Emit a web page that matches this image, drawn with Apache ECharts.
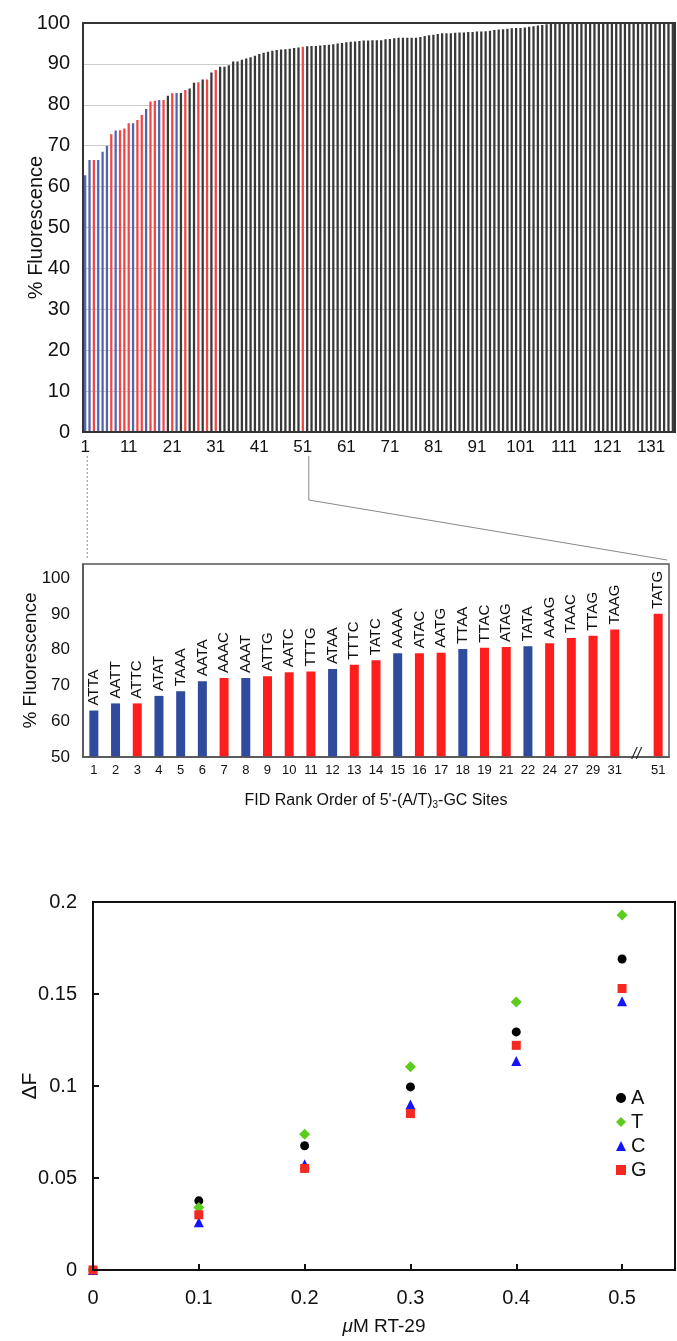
<!DOCTYPE html>
<html><head><meta charset="utf-8">
<script src="https://cdn.jsdelivr.net/npm/echarts@6.0.0/dist/echarts.min.js"></script>
<style>html,body{margin:0;padding:0;background:#fff}#c{width:677px;height:1341px}</style>
</head><body><div id="c"></div>
<script>
// ---------- DATA ----------
// Top panel: % fluorescence of all 136 tetranucleotide sites in FID rank order
const topValues = [
  62.8, 66.5, 66.5, 66.5, 68.5, 70.0, 72.8, 73.7, 73.8, 74.2,
  75.5, 75.5, 76.3, 77.5, 79.0, 80.8, 81.0, 81.2, 81.2, 82.2,
  82.8, 82.9, 82.9, 83.6, 84.0, 85.4, 85.5, 86.2, 86.2, 87.9,
  88.5, 89.3, 89.3, 89.7, 90.6, 90.6, 91.0, 91.3, 91.6, 92.0,
  92.4, 92.7, 93.0, 93.2, 93.4, 93.5, 93.6, 93.7, 93.9, 94.0,
  94.2, 94.3, 94.4, 94.4, 94.5, 94.6, 94.7, 94.8, 95.0, 95.1,
  95.3, 95.4, 95.5, 95.6, 95.7, 95.7, 95.8, 95.8, 95.8, 96.0,
  96.1, 96.3, 96.4, 96.4, 96.4, 96.4, 96.4, 96.6, 96.8, 97.0,
  97.1, 97.3, 97.5, 97.5, 97.5, 97.6, 97.7, 97.7, 97.8, 97.8,
  97.9, 97.9, 98.0, 98.1, 98.3, 98.4, 98.5, 98.6, 98.7, 98.8,
  98.8, 98.9, 99.1, 99.2, 99.4, 99.5, 99.7, 99.8, 99.9, 100,
  100, 100, 100, 100, 100, 100, 100, 100, 100, 100,
  100, 100, 100, 100, 100, 100, 100, 100, 100, 100,
  100, 100, 100, 100, 100, 100
];
const topYTicks = [0, 100, 10];   // min, max, interval
const topLabelEvery = 10;

// Middle panel: 5'-(A/T)3-GC sites
const midRanks  = [1,2,3,4,5,6,7,8,9,10,11,12,13,14,15,16,17,18,19,21,22,24,27,29,31,51];
const midSeqs   = ['ATTA','AATT','ATTC','ATAT','TAAA','AATA','AAAC','AAAT','ATTG','AATC','TTTG','ATAA','TTTC',
                   'TATC','AAAA','ATAC','AATG','TTAA','TTAC','ATAG','TATA','AAAG','TAAC','TTAG','TAAG','TATG'];
const midValues = [63.0,65.0,65.0,67.1,68.4,71.2,72.1,72.1,72.6,73.7,73.9,74.6,75.8,
                   77.1,79.0,79.0,79.2,80.2,80.6,80.8,81.0,81.8,83.3,83.9,85.7,90.1];
const midGroups = ['B','B','R','B','B','B','R','B','R','R','R','B','R',
                   'R','B','R','R','B','R','R','B','R','R','R','R','R'];
const midYTicks = [50, 104, 10];

// Bottom panel: ΔF vs µM RT-29
const dose = [0, 0.1, 0.2, 0.3, 0.4, 0.5];
const dfA  = [0, 0.0376, 0.0675, 0.0995, 0.1294, 0.169];
const dfT  = [0, 0.034, 0.0738, 0.1104, 0.1457, 0.193];
const dfC  = [0, 0.026, 0.0575, 0.0900, 0.1136, 0.146];
const dfG  = [0, 0.030, 0.0552, 0.0850, 0.1221, 0.153];

// ---------- STYLE / LAYOUT ----------
const FONT = '"Liberation Sans", Arial, Helvetica, sans-serif';
const L = {
  top: {left: 83, top: 23, width: 592, height: 409},
  mid: {left: 83, top: 564, width: 586, height: 193},
  bot: {left: 93, top: 902, width: 582, height: 368}
};
const topColors = {B: '#5263ae', R: '#f04646', K: '#383838'};
const midColors = {B: '#2f4b9e', R: '#ff1e1e'};

const topCats = topValues.map((v, i) => String(i + 1));
const topData = topValues.map((v, i) => {
  const k = midRanks.indexOf(i + 1);
  const g = k >= 0 ? midGroups[k] : 'K';
  return {value: v, itemStyle: {color: topColors[g]}};
});

const nMid = midRanks.length;
const midCats = midRanks.slice(0, nMid - 1).map(String).concat(['', String(midRanks[nMid - 1])]);
const midData = [];
midValues.forEach((v, i) => {
  if (i === nMid - 1) midData.push('-');
  midData.push({value: v, seq: midSeqs[i], itemStyle: {color: midColors[midGroups[i]]}});
});

const toPairs = ys => dose.map((x, i) => [x, ys[i]]);

const chart = echarts.init(document.getElementById('c'), null, {renderer: 'canvas'});
const axisLineBlack = {show: true, lineStyle: {color: '#222', width: 2}};
const gridOf = r => Object.assign({containLabel: false, outerBoundsMode: 'none'}, r);

chart.setOption({
  animation: false,
  backgroundColor: '#fff',
  textStyle: {fontFamily: FONT, color: '#111'},
  grid: [gridOf(L.top), gridOf(L.mid), gridOf(L.bot)],
  xAxis: [
    {gridIndex: 0, type: 'category', data: topCats,
     axisLine: axisLineBlack, axisTick: {show: false},
     axisLabel: {interval: topLabelEvery - 1, fontSize: 17, margin: 7, color: '#111', fontFamily: FONT}},
    {gridIndex: 1, type: 'category', data: midCats,
     axisLine: {show: true, lineStyle: {color: '#444', width: 1.5}}, axisTick: {show: false},
     axisLabel: {interval: 0, fontSize: 13, margin: 7, color: '#111', fontFamily: FONT},
     name: "FID Rank Order of 5'-(A/T){sub|3}-GC Sites", nameLocation: 'middle', nameGap: 35,
     nameMoveOverlap: false,
     nameTextStyle: {fontSize: 16, color: '#111', fontFamily: FONT,
       rich: {sub: {fontSize: 10, fontFamily: FONT, color: '#111', padding: [8, 0, 0, 0]}}}},
    {gridIndex: 2, type: 'value', min: 0, max: 0.55, interval: 0.1,
     axisLine: {show: true, onZero: false, lineStyle: {color: '#111', width: 2}},
     axisTick: {show: true, inside: true, length: 6, lineStyle: {color: '#111', width: 2}},
     splitLine: {show: false},
     axisLabel: {fontSize: 20, margin: 18, color: '#111', fontFamily: FONT, showMaxLabel: false},
     name: '{i|μ}M RT-29', nameLocation: 'middle', nameGap: 47, nameMoveOverlap: false,
     nameTextStyle: {fontSize: 19, color: '#111', fontFamily: FONT,
       rich: {i: {fontStyle: 'italic', fontSize: 19, fontFamily: FONT, color: '#111'}}}}
  ],
  yAxis: [
    {gridIndex: 0, type: 'value', min: topYTicks[0], max: topYTicks[1], interval: topYTicks[2],
     axisLine: axisLineBlack, axisTick: {show: false},
     splitLine: {show: true, lineStyle: {color: '#cccccc', width: 1}},
     axisLabel: {fontSize: 20, margin: 13, color: '#111', fontFamily: FONT},
     name: '% Fluorescence', nameLocation: 'middle', nameGap: 37, nameMoveOverlap: false,
     nameTextStyle: {fontSize: 20, color: '#111', fontFamily: FONT}},
    {gridIndex: 1, type: 'value', min: midYTicks[0], max: midYTicks[1], interval: midYTicks[2],
     axisLine: {show: true, lineStyle: {color: '#444', width: 1.5}}, axisTick: {show: false},
     splitLine: {show: false},
     axisLabel: {fontSize: 17, margin: 13, color: '#111', fontFamily: FONT, showMaxLabel: false},
     name: '% Fluorescence', nameLocation: 'middle', nameGap: 43, nameMoveOverlap: false,
     nameTextStyle: {fontSize: 19, color: '#111', fontFamily: FONT}},
    {gridIndex: 2, type: 'value', min: 0, max: 0.2, interval: 0.05,
     axisLine: {show: true, onZero: false, lineStyle: {color: '#111', width: 2}},
     axisTick: {show: true, inside: true, length: 6, lineStyle: {color: '#111', width: 2}},
     splitLine: {show: false},
     axisLabel: {fontSize: 20, margin: 16, color: '#111', fontFamily: FONT},
     name: 'ΔF', nameLocation: 'middle', nameGap: 52, nameMoveOverlap: false,
     nameTextStyle: {fontSize: 21, color: '#111', fontFamily: FONT}}
  ],
  legend: {
    data: ['A', 'T', 'C', 'G'], orient: 'vertical', left: 611, top: 1083,
    itemWidth: 10, itemHeight: 10, itemGap: 4,
    textStyle: {fontSize: 20, color: '#111', fontFamily: FONT}
  },
  series: [
    {type: 'bar', xAxisIndex: 0, yAxisIndex: 0, data: topData, barWidth: '52%'},
    {type: 'bar', xAxisIndex: 1, yAxisIndex: 1, data: midData, barWidth: 9,
     label: {show: true, position: 'top', rotate: 90, align: 'left', verticalAlign: 'middle',
       distance: 5, fontSize: 15, color: '#111', fontFamily: FONT,
       formatter: p => p.data && p.data.seq ? p.data.seq : ''}},
    {type: 'scatter', name: 'A', xAxisIndex: 2, yAxisIndex: 2, data: toPairs(dfA),
     symbol: 'circle', symbolSize: 9, itemStyle: {color: '#000', opacity: 1}},
    {type: 'scatter', name: 'T', xAxisIndex: 2, yAxisIndex: 2, data: toPairs(dfT),
     symbol: 'diamond', symbolSize: 11, itemStyle: {color: '#5ccc1e', opacity: 1}},
    {type: 'scatter', name: 'C', xAxisIndex: 2, yAxisIndex: 2, data: toPairs(dfC),
     symbol: 'triangle', symbolSize: 10, itemStyle: {color: '#1414ff', opacity: 1}},
    {type: 'scatter', name: 'G', xAxisIndex: 2, yAxisIndex: 2, data: toPairs(dfG),
     symbol: 'rect', symbolSize: 9, itemStyle: {color: '#f42a22', opacity: 1}}
  ]
});

// ---------- decorations: frames, zoom connectors, axis break ----------
const p1 = chart.convertToPixel({xAxisIndex: 0, yAxisIndex: 0}, [0, 0]);
const p51 = chart.convertToPixel({xAxisIndex: 0, yAxisIndex: 0}, [midRanks[nMid - 1] - 1, 0]);
const pBrk = chart.convertToPixel({xAxisIndex: 1, yAxisIndex: 1}, [nMid - 1, midYTicks[0]]);
const connTop = p1[1] + 24;
const frame = (r, color, w) => ({type: 'rect', z: 100, silent: true,
  shape: {x: r.left, y: r.top, width: r.width, height: r.height},
  style: {fill: 'none', stroke: color, lineWidth: w}});
chart.setOption({
  graphic: [
    frame(L.top, '#333', 2),
    frame(L.mid, '#555', 1.5),
    frame(L.bot, '#111', 2),
    {type: 'line', z: 100, silent: true,
     shape: {x1: p1[0] + 2, y1: connTop, x2: p1[0] + 2, y2: L.mid.top - 6},
     style: {stroke: '#888', lineWidth: 1, lineDash: [2, 2]}},
    {type: 'polyline', z: 100, silent: true,
     shape: {points: [[p51[0] + 6, connTop], [p51[0] + 6, connTop + 44], [L.mid.left + L.mid.width - 2, L.mid.top - 4]]},
     style: {stroke: '#888', lineWidth: 1, fill: 'none'}},
    {type: 'text', z: 101, silent: true, x: pBrk[0], y: pBrk[1] - 2,
     style: {text: '//', fontSize: 16, fontStyle: 'italic', fontFamily: FONT, fill: '#222',
       align: 'center', verticalAlign: 'middle'}}
  ]
});
</script>
</body></html>
